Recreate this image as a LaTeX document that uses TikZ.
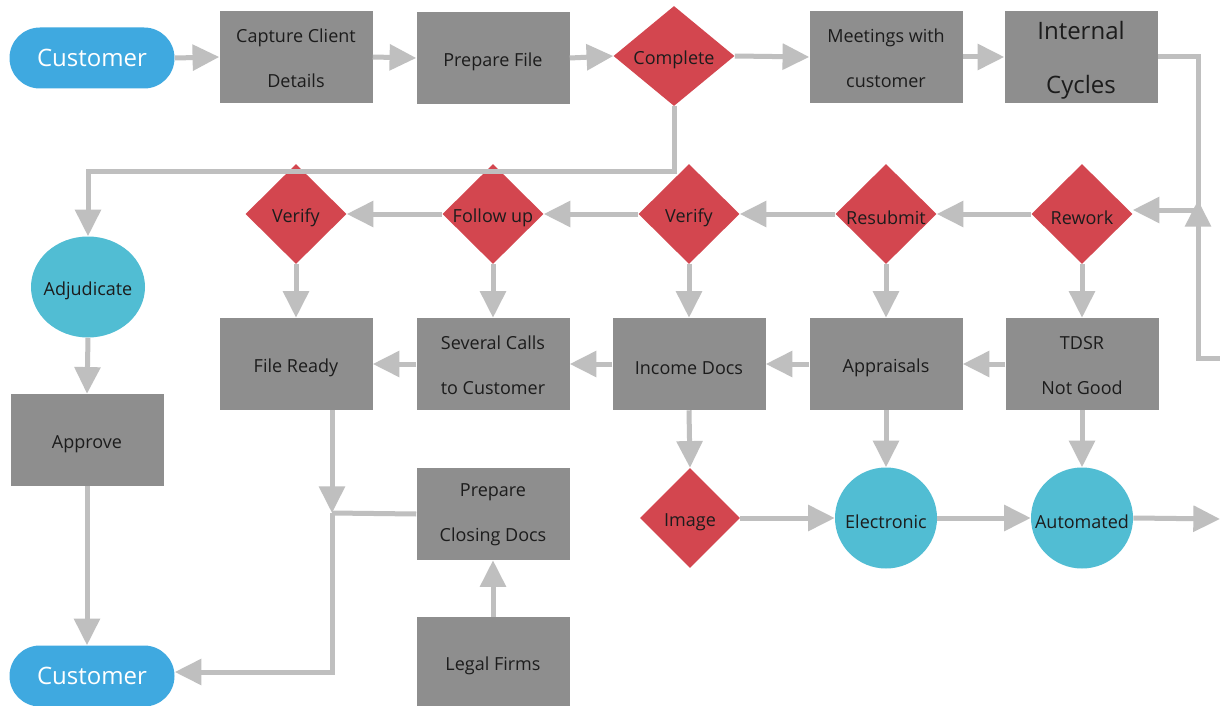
\documentclass[tikz,border=0pt]{standalone}
\usepackage{fontspec}
\setmainfont{Open Sans}
\usetikzlibrary{shapes.geometric,arrows.meta}
\definecolor{boxgray}{HTML}{8E8E8E}
\definecolor{decred}{HTML}{D3464F}
\definecolor{termblue}{HTML}{3FA9E0}
\definecolor{stateteal}{HTML}{51BDD3}
\definecolor{linkgray}{HTML}{BFBFBF}
\definecolor{inkdark}{HTML}{1C1C1C}
\tikzset{
  txt/.style={font=\fontsize{13.5}{33.75}\selectfont, text=inkdark, align=center},
  procbox/.style={rectangle, fill=boxgray, minimum width=114.75pt, minimum height=69pt, inner sep=0pt},
  decision/.style={diamond, fill=decred, minimum width=75.75pt, minimum height=75pt, inner sep=0pt},
  stateball/.style={ellipse, fill=stateteal, minimum width=76.5pt, minimum height=75.75pt, inner sep=0pt},
  terminal/.style={rectangle, rounded corners=22.8pt, fill=termblue, minimum width=123.75pt, minimum height=45.75pt, inner sep=0pt, text=white, font=\fontsize{18}{22}\selectfont},
  conn/.style={draw=linkgray, line width=3.75pt},
  flow/.style={conn, -{Triangle[length=20pt,width=19pt]}},
  lbl/.style={label={[txt, yshift=-3pt]center:#1}},
  lbltwo/.style={label={[txt, yshift=-0.9pt]center:#1}},
  lblbig/.style={label={[txt, font=\fontsize{18}{40.5}\selectfont, yshift=-2.2pt]center:#1}}
}
\begin{document}
\begin{tikzpicture}[x=0.75pt,y=-0.75pt]
\fill[white] (0,0) rectangle (1220,706);
\useasboundingbox (0,0) rectangle (1220,706);

% top row
\node[terminal] (cust1) at (92,58) {Customer};
\node[procbox, lbltwo={Capture Client\\Details}] (cap) at (296,57) {};
\node[procbox, lbl=Prepare File] (prep) at (493,58) {};
\node[decision, minimum width=90.75pt, lbl=Complete] (comp) at (674,56) {};
\node[procbox, lbltwo={Meetings with\\customer}] (meet) at (886,57) {};
\node[procbox, lblbig={Internal\\Cycles}] (intc) at (1081,57) {};

% decision row
\node[decision, lbl=Verify] (ver1) at (296,214) {};
\node[decision, lbl=Follow up] (fup) at (493,214) {};
\node[decision, lbl=Verify] (ver2) at (689,214) {};
\node[decision, lbl=Resubmit] (resub) at (886,214) {};
\node[decision, lbl=Rework] (rew) at (1082,214) {};

% document row
\node[procbox, lbl=File Ready] (fready) at (296,364) {};
\node[procbox, lbltwo={Several Calls\\to Customer}] (calls) at (493,364) {};
\node[procbox, lbl=Income Docs] (inc) at (689,364) {};
\node[procbox, lbl=Appraisals] (appr) at (886,364) {};
\node[procbox, lbltwo={TDSR\\Not Good}] (tdsr) at (1082,364) {};

% channel row
\node[decision, minimum width=75pt, lbl=Image] (img) at (690,518) {};
\node[stateball, lbl=Electronic] (elec) at (886,518) {};
\node[stateball, lbl=Automated] (auto) at (1082,518) {};

% left column
\node[stateball, minimum width=85.5pt, lbl=Adjudicate] (adj) at (88,287) {};
\node[procbox, lbl=Approve] (appv) at (87,440) {};
\node[terminal] (cust2) at (92,676) {Customer};

% closing
\node[procbox, lbltwo={Prepare\\Closing Docs}] (pcd) at (493,514) {};
\node[procbox, minimum height=66.75pt, lbl=Legal Firms] (legal) at (493,661.5) {};

% junction points
\coordinate (jr) at (1198,210);
\coordinate (rin) at (1220,358);
\coordinate (rup) at (1198,200);
\coordinate (jf) at (332,513);
\coordinate (jb) at (332,672);
\coordinate (aout) at (1220,519);

% top row flow
\draw[flow] (cust1.east) -- (cap.west);
\draw[flow] (cap.east) -- (prep.west);
\draw[flow] (prep.east) -- (comp.west);
\draw[flow] (comp.east) -- (meet.west);
\draw[flow] (meet.east) -- (intc.west);
\draw[flow] (intc.east) -| (jr) -- (jr -| rew.east);
\draw[flow] (rin) -- (rin -| rup) -- (rup);

% complete to adjudicate
\draw[flow] (comp.south) -- ++(0,65) -| (adj.north);
\draw[flow] (adj.south) -- (appv.north);
\draw[flow] (appv.south) -- (cust2.north -| appv.south);

% decision row, right to left
\draw[flow] (rew.west) -- (resub.east);
\draw[flow] (resub.west) -- (ver2.east);
\draw[flow] (ver2.west) -- (fup.east);
\draw[flow] (fup.west) -- (ver1.east);

% decisions down to documents
\draw[flow] (ver1.south) -- (fready.north);
\draw[flow] (fup.south) -- (calls.north);
\draw[flow] (ver2.south) -- (inc.north);
\draw[flow] (resub.south) -- (appr.north);
\draw[flow] (rew.south) -- (tdsr.north);

% document row, right to left
\draw[flow] (tdsr.west) -- (appr.east);
\draw[flow] (appr.west) -- (inc.east);
\draw[flow] (inc.west) -- (calls.east);
\draw[flow] (calls.west) -- (fready.east);

% documents down to channels
\draw[flow] (inc.south) -- (img.north);
\draw[flow] (appr.south) -- (elec.north);
\draw[flow] (tdsr.south) -- (auto.north);
\draw[flow] (img.east) -- (elec.west);
\draw[flow] (elec.east) -- (auto.west);
\draw[flow] (auto.east) -- (aout);

% closing path back to customer
\draw[flow] (jf |- fready.south) -- (jf);
\draw[conn] (pcd.west) -- (jf);
\draw[flow] (jf) -- (jb) -- (jb -| cust2.east);
\draw[flow] (legal.north) -- (pcd.south);
\end{tikzpicture}
\end{document}
